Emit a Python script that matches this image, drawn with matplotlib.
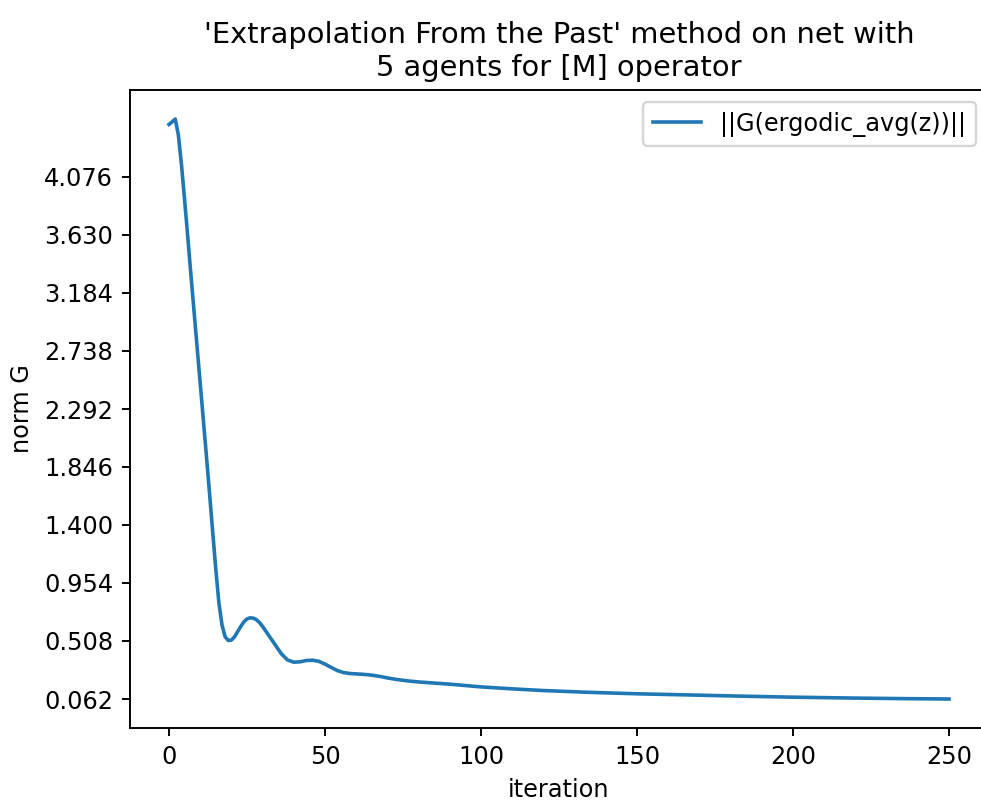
import matplotlib
matplotlib.use("Agg")
import matplotlib.pyplot as plt

iterations = [0, 1, 2, 3, 4, 5, 6, 7, 8, 9, 10, 11, 12, 13, 14, 15, 16, 17, 18, 19,
              20, 21, 22, 23, 24, 25, 26, 27, 28, 29, 30, 32, 34, 36, 38, 40, 42, 44,
              46, 48, 50, 52, 54, 56, 58, 60, 62, 64, 66, 68, 70, 73, 77, 80, 90, 100,
              110, 120, 135, 150, 167, 185, 200, 220, 235, 250]
norm_g = [4.48, 4.50, 4.522, 4.40, 4.17, 3.90, 3.62, 3.33, 3.05, 2.77, 2.49, 2.21,
          1.93, 1.64, 1.35, 1.06, 0.80, 0.63, 0.54, 0.512,
          0.515, 0.54, 0.58, 0.62, 0.655, 0.678, 0.686, 0.684, 0.672, 0.65, 0.62,
          0.55, 0.48, 0.41, 0.362, 0.345, 0.348, 0.358, 0.360, 0.352, 0.33, 0.305,
          0.28, 0.265, 0.258, 0.255, 0.252, 0.248, 0.242, 0.234, 0.224, 0.212, 0.200,
          0.193, 0.176, 0.155, 0.140, 0.127, 0.113, 0.102, 0.093, 0.083, 0.076,
          0.069, 0.065, 0.062]
ytick_values = [0.062, 0.508, 0.954, 1.400, 1.846, 2.292, 2.738, 3.184, 3.630, 4.076]
ytick_labels = ["0.062", "0.508", "0.954", "1.400", "1.846", "2.292", "2.738",
                "3.184", "3.630", "4.076"]

DPI = 173
fig = plt.figure(figsize=(981 / DPI, 805 / DPI), dpi=DPI)
ax = fig.add_axes([130 / 981, 1 - 728 / 805, 858 / 981, 638 / 805])
ax.plot(iterations, norm_g, color="#1f77b4", label="||G(ergodic_avg(z))||")
ax.set_yticks(ytick_values)
ax.set_yticklabels(ytick_labels)
ax.set_xlabel("iteration")
ax.set_ylabel("norm G")
ax.set_title("'Extrapolation From the Past' method on net with\n5 agents for [M] operator")
ax.legend(loc="upper right")
fig.savefig("out.png", dpi=DPI)
